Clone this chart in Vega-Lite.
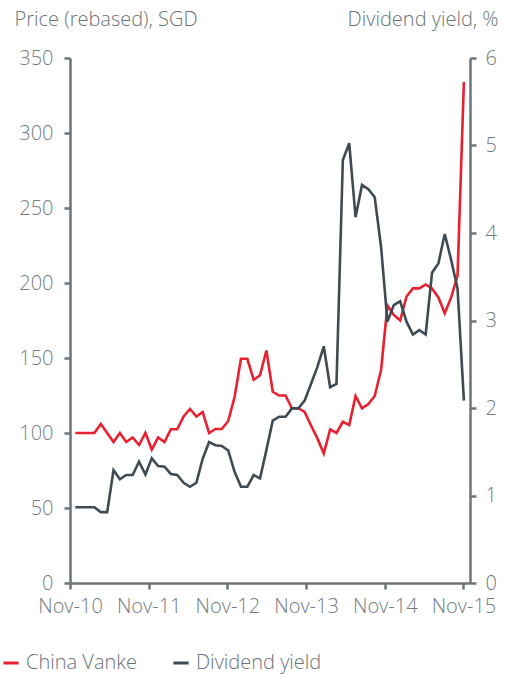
{
  "$schema": "https://vega.github.io/schema/vega-lite/v6.json",
  "width": 400,
  "height": 525,
  "autosize": "none",
  "padding": {"left": 70, "top": 58, "right": 38, "bottom": 92},
  "background": "white",
  "config": {
    "font": "Open Sans",
    "view": {"stroke": null},
    "axis": {
      "grid": false,
      "domainColor": "#6b747a",
      "domainWidth": 2.5,
      "tickColor": "#6b747a",
      "tickWidth": 2.5,
      "tickSize": 6,
      "labelFontSize": 20,
      "labelFontWeight": 300,
      "labelColor": "#737c82",
      "labelFont": "Open Sans",
      "labelOverlap": false,
      "labelBound": false,
      "labelFlush": false,
      "titleFont": "Open Sans",
      "titleFontSize": 20,
      "titleFontWeight": 300,
      "titleColor": "#6a7379"
    },
    "legend": {
      "labelFontSize": 20,
      "labelFontWeight": 300,
      "labelColor": "#6a7379",
      "labelFont": "Open Sans"
    }
  },
  "data": {
    "values": [
      {"m": 0.81, "p": 100, "y": 0.865},
      {"m": 1.78, "p": 100, "y": 0.865},
      {"m": 2.75, "p": 100, "y": 0.865},
      {"m": 3.72, "p": 100, "y": 0.865},
      {"m": 4.70, "p": 106, "y": 0.81},
      {"m": 5.67, "p": 100, "y": 0.81},
      {"m": 6.64, "p": 94, "y": 1.29},
      {"m": 7.61, "p": 100, "y": 1.185},
      {"m": 8.58, "p": 94, "y": 1.234},
      {"m": 9.55, "p": 97, "y": 1.234},
      {"m": 10.53, "p": 92, "y": 1.387},
      {"m": 11.50, "p": 100, "y": 1.24},
      {"m": 12.47, "p": 89, "y": 1.425},
      {"m": 13.44, "p": 97, "y": 1.337},
      {"m": 14.41, "p": 94, "y": 1.33},
      {"m": 15.38, "p": 102.5, "y": 1.246},
      {"m": 16.35, "p": 102.5, "y": 1.234},
      {"m": 17.33, "p": 111, "y": 1.146},
      {"m": 18.30, "p": 116, "y": 1.10},
      {"m": 19.27, "p": 111, "y": 1.146},
      {"m": 20.24, "p": 114, "y": 1.42},
      {"m": 21.21, "p": 100, "y": 1.61},
      {"m": 22.18, "p": 102.7, "y": 1.575},
      {"m": 23.15, "p": 102.7, "y": 1.566},
      {"m": 24.13, "p": 108, "y": 1.515},
      {"m": 25.10, "p": 124, "y": 1.27},
      {"m": 26.07, "p": 149.5, "y": 1.10},
      {"m": 27.04, "p": 149.5, "y": 1.10},
      {"m": 28.01, "p": 135.5, "y": 1.234},
      {"m": 28.98, "p": 138.5, "y": 1.196},
      {"m": 29.95, "p": 155, "y": 1.52},
      {"m": 30.92, "p": 127.5, "y": 1.855},
      {"m": 31.90, "p": 125, "y": 1.90},
      {"m": 32.87, "p": 125, "y": 1.90},
      {"m": 33.84, "p": 116.5, "y": 1.996},
      {"m": 34.81, "p": 116.5, "y": 1.996},
      {"m": 35.78, "p": 114, "y": 2.084},
      {"m": 36.75, "p": 105, "y": 2.274},
      {"m": 37.73, "p": 96.4, "y": 2.47},
      {"m": 38.70, "p": 86.4, "y": 2.705},
      {"m": 39.67, "p": 102.4, "y": 2.237},
      {"m": 40.64, "p": 100, "y": 2.274},
      {"m": 41.61, "p": 107.5, "y": 4.834},
      {"m": 42.58, "p": 105.3, "y": 5.025},
      {"m": 43.55, "p": 124.7, "y": 4.18},
      {"m": 44.53, "p": 116.4, "y": 4.549},
      {"m": 45.50, "p": 119.3, "y": 4.50},
      {"m": 46.47, "p": 124.7, "y": 4.408},
      {"m": 47.44, "p": 142, "y": 3.84},
      {"m": 48.41, "p": 185, "y": 2.987},
      {"m": 49.38, "p": 178.7, "y": 3.177},
      {"m": 50.35, "p": 175, "y": 3.22},
      {"m": 51.32, "p": 191, "y": 2.987},
      {"m": 52.30, "p": 196.4, "y": 2.84},
      {"m": 53.27, "p": 196.4, "y": 2.89},
      {"m": 54.24, "p": 199, "y": 2.84},
      {"m": 55.21, "p": 196.4, "y": 3.546},
      {"m": 56.18, "p": 190.4, "y": 3.653},
      {"m": 57.15, "p": 179.8, "y": 3.989},
      {"m": 58.13, "p": 190.4, "y": 3.69},
      {"m": 59.10, "p": 205, "y": 3.367},
      {"m": 60.07, "p": 334, "y": 2.084}
    ]
  },
  "encoding": {
    "x": {
      "field": "m",
      "type": "quantitative",
      "scale": {"domain": [0, 61], "nice": false, "zero": false},
      "axis": {
        "values": [0, 12, 24, 36, 48, 60],
        "labelExpr": "['Nov-10','Nov-11','Nov-12','Nov-13','Nov-14','Nov-15'][round(datum.value/12)]",
        "labelPadding": 7,
        "title": null
      }
    }
  },
  "layer": [
    {
      "mark": {"type": "line", "strokeWidth": 2.6, "strokeJoin": "miter"},
      "encoding": {
        "y": {
          "field": "p",
          "type": "quantitative",
          "scale": {"domain": [0, 350], "nice": false},
          "axis": {
            "orient": "left",
            "values": [0, 50, 100, 150, 200, 250, 300, 350],
            "labelPadding": 11,
            "title": "Price (rebased), SGD",
            "titleAngle": 0,
            "titleAlign": "left",
            "titleBaseline": "alphabetic",
            "titleX": -56,
            "titleY": -33
          }
        },
        "color": {
          "datum": "China Vanke",
          "scale": {"domain": ["China Vanke", "Dividend yield"], "range": ["#e8202f", "#3f4a52"]},
          "legend": {
            "title": null,
            "orient": "none",
            "direction": "horizontal",
            "legendX": -69,
            "legendY": 595,
            "padding": 0,
            "symbolType": "stroke",
            "symbolSize": 230,
            "symbolStrokeWidth": 3,
            "labelOffset": 5,
            "columnPadding": 30
          }
        }
      }
    },
    {
      "mark": {"type": "line", "strokeWidth": 2.6, "strokeJoin": "miter"},
      "encoding": {
        "y": {
          "field": "y",
          "type": "quantitative",
          "scale": {"domain": [0, 6], "nice": false},
          "axis": {
            "orient": "right",
            "values": [0, 1, 2, 3, 4, 5, 6],
            "labelPadding": 9,
            "title": "Dividend yield, %",
            "titleAngle": 0,
            "titleAlign": "right",
            "titleBaseline": "alphabetic",
            "titleX": 28,
            "titleY": -33
          }
        },
        "color": {"datum": "Dividend yield"}
      }
    }
  ],
  "resolve": {"scale": {"y": "independent"}}
}
